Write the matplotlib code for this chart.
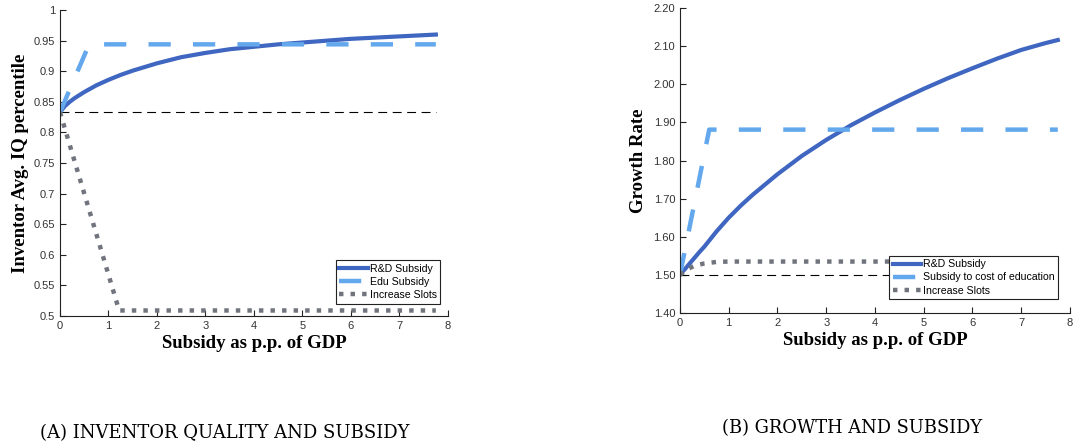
import matplotlib.pyplot as plt
from matplotlib.ticker import FormatStrFormatter

# ---- data ----
# panel (a): inventor quality
rd_x = [0, 0.05, 0.1, 0.2, 0.3, 0.4, 0.5, 0.75, 1, 1.25, 1.5, 2, 2.5, 3, 3.5, 4, 4.5, 5, 5.5, 6, 6.5, 7, 7.5, 7.75]
rd_q = [0.833, 0.838, 0.843, 0.850, 0.856, 0.861, 0.866, 0.877, 0.886, 0.894, 0.901, 0.913, 0.923, 0.930, 0.936, 0.940, 0.944, 0.947, 0.950, 0.953, 0.955, 0.957, 0.959, 0.960]
edu_x = [0, 0.6, 7.75]
edu_q = [0.833, 0.944, 0.944]
slots_x = [0, 1.22, 7.75]
slots_q = [0.833, 0.509, 0.509]
base_q = 0.834

# panel (b): growth
rd_g = [1.500, 1.508, 1.515, 1.530, 1.545, 1.560, 1.574, 1.614, 1.650, 1.682, 1.711, 1.764, 1.812, 1.854, 1.892, 1.926, 1.958, 1.988, 2.016, 2.042, 2.067, 2.090, 2.108, 2.116]
edu_gx = [0, 0.6, 7.75]
edu_g = [1.50, 1.881, 1.881]
slots_gx = [0, 0.15, 0.3, 0.5, 0.75, 1.0, 7.75]
slots_g = [1.50, 1.515, 1.524, 1.530, 1.534, 1.535, 1.535]
base_g = 1.50

blue = '#3F66C0'
light = '#63A8EC'
grey = '#71747D'

fig = plt.figure(figsize=(10.73, 4.44), dpi=100)
ax1 = fig.add_axes([0.0559, 0.2883, 0.3616, 0.689])
ax2 = fig.add_axes([0.6337, 0.295, 0.3635, 0.687])

lab_font = dict(family='Liberation Serif', fontweight='bold', fontsize=13.5)
leg_kw = dict(prop={'family': 'Liberation Sans', 'size': 7.6},
              fancybox=False, edgecolor='#222222', framealpha=1,
              handlelength=2.7, handletextpad=0.15, borderpad=0.35,
              labelspacing=0.3, borderaxespad=0)


def style(ax):
    for s in ['top', 'right']:
        ax.spines[s].set_visible(False)
    for s in ['left', 'bottom']:
        ax.spines[s].set_color('#222222')
        ax.spines[s].set_linewidth(0.8)
    ax.tick_params(direction='in', length=4, width=0.8, labelsize=8,
                   labelcolor='#333333', color='#222222')
    for lab in ax.get_xticklabels() + ax.get_yticklabels():
        lab.set_family('Liberation Sans')
    ax.set_xlim(0, 8)
    ax.set_xticks(range(9))
    ax.set_xlabel('Subsidy as p.p. of GDP', labelpad=3, **lab_font)


# panel (a)
ax1.plot([0, 7.75], [base_q, base_q], color='black', lw=0.8, dashes=(8, 5))
ax1.plot(rd_x, rd_q, color=blue, lw=3, label='R&D Subsidy')
ax1.plot(edu_x, edu_q, color=light, lw=3.2, dashes=(5, 5), label='Edu Subsidy')
ax1.plot(slots_x, slots_q, color=grey, lw=3.2, dashes=(1, 1.6), label='Increase Slots')
ax1.set_ylim(0.5, 1)
ax1.set_yticks([0.5, 0.55, 0.6, 0.65, 0.7, 0.75, 0.8, 0.85, 0.9, 0.95, 1])
ax1.set_yticklabels(['0.5', '0.55', '0.6', '0.65', '0.7', '0.75', '0.8', '0.85', '0.9', '0.95', '1'])
style(ax1)
ax1.set_ylabel('Inventor Avg. IQ percentile', labelpad=3, **lab_font)
leg1 = ax1.legend(loc='lower right', bbox_to_anchor=(0.98, 0.04), **leg_kw)
leg1.get_frame().set_linewidth(0.8)

# panel (b)
ax2.plot([0, 7.75], [base_g, base_g], color='black', lw=0.8, dashes=(8, 5))
ax2.plot(rd_x, rd_g, color=blue, lw=3, label='R&D Subsidy')
ax2.plot(edu_gx, edu_g, color=light, lw=3.2, dashes=(5, 5), label='Subsidy to cost of education')
ax2.plot(slots_gx, slots_g, color=grey, lw=3.2, dashes=(1, 1.6), label='Increase Slots')
ax2.set_ylim(1.4, 2.2)
ax2.set_yticks([1.4, 1.5, 1.6, 1.7, 1.8, 1.9, 2.0, 2.1, 2.2])
ax2.yaxis.set_major_formatter(FormatStrFormatter('%.2f'))
style(ax2)
ax2.set_ylabel('Growth Rate', labelpad=5, **lab_font)
leg2 = ax2.legend(loc='lower right', bbox_to_anchor=(0.97, 0.045), **leg_kw)
leg2.get_frame().set_linewidth(0.8)

# captions
fig.text(0.037, 0.025, '(A) INVENTOR QUALITY AND SUBSIDY', family='DejaVu Serif',
         fontsize=13, ha='left', va='center')
fig.text(0.673, 0.036, '(B) GROWTH AND SUBSIDY', family='DejaVu Serif',
         fontsize=12.9, ha='left', va='center')

fig.savefig('out.png', dpi=100)
